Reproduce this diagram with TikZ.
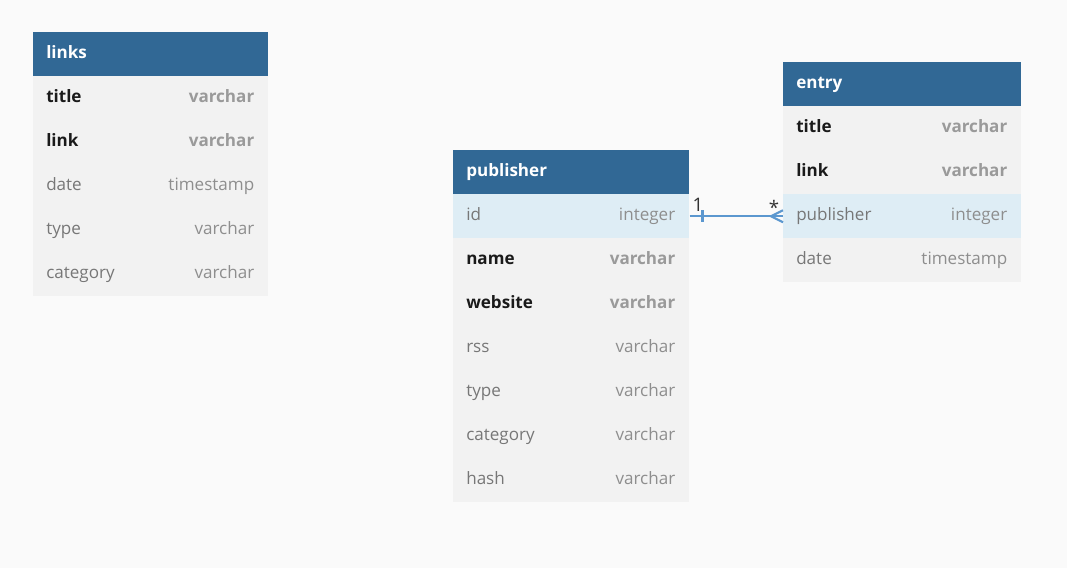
\documentclass[tikz,border=0pt]{standalone}
\usepackage{fontspec}
\setmainfont{Open Sans}
\usetikzlibrary{positioning}

\definecolor{bg}{HTML}{FAFAFA}
\definecolor{hdrblue}{HTML}{316895}
\definecolor{rowgray}{HTML}{F2F2F2}
\definecolor{keyblue}{HTML}{DEEDF5}
\definecolor{relblue}{HTML}{5B97CF}
\definecolor{nbf}{HTML}{1A1A1A}
\definecolor{nmd}{HTML}{777777}
\definecolor{tbf}{HTML}{9A9A9A}
\definecolor{tmd}{HTML}{8E8E8E}

\newcommand{\ftsz}{\fontsize{12.8}{15}\selectfont}

\tikzset{
  cell/.style={rectangle, anchor=north west, minimum height=33pt, inner xsep=9.75pt, inner ysep=0pt, text width=#1, align=left, text height=9.5pt, text depth=3pt},
  hdr/.style={cell=#1, fill=hdrblue, text=white, font=\ftsz\bfseries},
  fld/.style={font=\ftsz\csname #1series\endcsname, text=n#1},
  typ/.style={anchor=east, inner xsep=10.5pt, font=\ftsz\csname #1series\endcsname, text=t#1, text height=9.5pt, text depth=3pt},
  rel/.style={draw=relblue, line width=1.6pt},
  lbl/.style={font=\fontsize{14}{16}\selectfont, text=black!80, inner sep=0pt}
}

\begin{document}
\begin{tikzpicture}[x=0.75pt, y=-0.75pt]
\useasboundingbox[fill=bg] (0,0) rectangle (1067,568);

% links
\node[hdr=156.75pt] (links) at (33,32) {links};
\foreach \n/\t/\s/\f [count=\i] in {title/varchar/bf/rowgray, link/varchar/bf/rowgray, date/timestamp/md/rowgray, type/varchar/md/rowgray, category/varchar/md/rowgray}{
\node[cell=156.75pt, fill=\f, fld=\s] (links-\i) at (33,{32+44*\i}) {\n};
\node[typ=\s] at (links-\i.east) {\t};}

% publisher
\node[hdr=157.5pt] (publisher) at (453,150) {publisher};
\foreach \n/\t/\s/\f [count=\i] in {id/integer/md/keyblue, name/varchar/bf/rowgray, website/varchar/bf/rowgray, rss/varchar/md/rowgray, type/varchar/md/rowgray, category/varchar/md/rowgray, hash/varchar/md/rowgray}{
\node[cell=157.5pt, fill=\f, fld=\s] (publisher-\i) at (453,{150+44*\i}) {\n};
\node[typ=\s] at (publisher-\i.east) {\t};}

% entry
\node[hdr=159pt] (entry) at (783,62) {entry};
\foreach \n/\t/\s/\f [count=\i] in {title/varchar/bf/rowgray, link/varchar/bf/rowgray, publisher/integer/md/keyblue, date/timestamp/md/rowgray}{
\node[cell=159pt, fill=\f, fld=\s] (entry-\i) at (783,{62+44*\i}) {\n};
\node[typ=\s] at (entry-\i.east) {\t};}

% relation publisher.id 1 -- * entry.publisher
\draw[rel] (publisher-1.east) -- (entry-3.west);
\draw[rel] ([xshift=9.75pt]publisher-1.east) ++(0,-6) -- ++(0,12);
\draw[rel] ([yshift=4.5pt]entry-3.west) -- ([xshift=-9pt]entry-3.west) -- ([yshift=-4.5pt]entry-3.west);
\node[lbl] (one) at (698,205) {1};
\node[lbl] (many) at (774,207) {*};
\end{tikzpicture}
\end{document}
